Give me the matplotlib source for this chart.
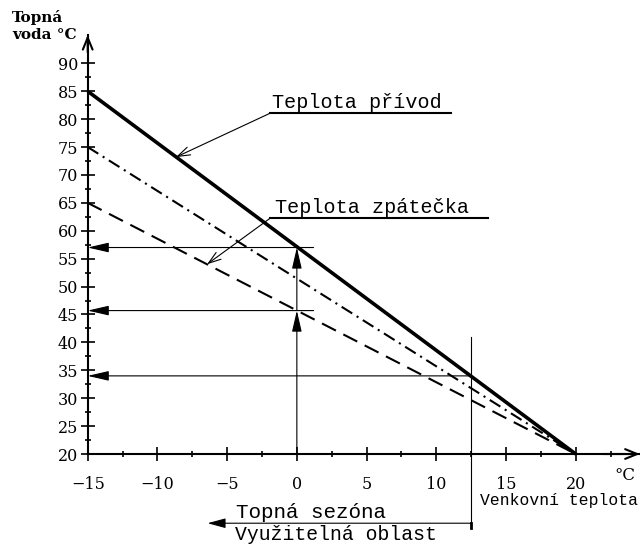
import matplotlib
matplotlib.use("Agg")
import matplotlib.pyplot as plt
import numpy as np

# venkovni teplota (osa x) a teploty vody
outdoor = [-15, 20]
supply = [85, 20]
middle = [75, 20]
ret = [65, 20]

# odectene body
design_x = 0
supply_design = 57
return_design = 45.7
season_end = 12.5
supply_season = 34
mark_end = 1.2

x_ticks = [-15, -10, -5, 0, 5, 10, 15, 20]
y_ticks = [20, 25, 30, 35, 40, 45, 50, 55, 60, 65, 70, 75, 80, 85, 90]

mono = "Liberation Mono"
serif = "DejaVu Serif"

fig = plt.figure(figsize=(6.4, 5.49), dpi=100)
ax = fig.add_axes([0, 0, 1, 1])
ax.set_xlim(-21.29, 24.61)
ax.set_ylim(2.98, 101.35)
ax.patch.set_visible(False)

# osy
for s in ["top", "right"]:
  ax.spines[s].set_visible(False)
ax.spines["left"].set_position(("data", -15))
ax.spines["bottom"].set_position(("data", 20))
ax.spines["left"].set_bounds(20, 95.1)
ax.spines["bottom"].set_bounds(-15, 24.6)
for s in ["left", "bottom"]:
  ax.spines[s].set_linewidth(1.5)

ax.set_xticks(x_ticks)
ax.set_yticks(y_ticks)
ax.set_xticks(np.arange(-12.5, 23, 5), minor=True)
ax.set_yticks(np.arange(22.5, 90, 5), minor=True)
ax.tick_params(which="major", direction="inout", length=10, width=1.2,
               labelsize=11.5, labelfontfamily=serif)
ax.tick_params(which="minor", direction="inout", length=4.3, width=1.2)
ax.tick_params(axis="x", which="major", pad=11)
ax.tick_params(axis="y", which="major", pad=2)

arrow_open = dict(arrowstyle="->,head_length=0.86,head_width=0.35", lw=1.5,
                  color="k", shrinkA=0, shrinkB=0)
ax.annotate("", xy=(-15, 95.1), xytext=(-15, 92), arrowprops=arrow_open,
            annotation_clip=False)
ax.annotate("", xy=(24.6, 20), xytext=(22, 20), arrowprops=arrow_open,
            annotation_clip=False)

# krivky
ax.plot(outdoor, supply, color="k", lw=2.6, solid_capstyle="butt")
ax.plot(outdoor, middle, color="k", lw=1.5, linestyle=(0, (6, 2.5, 1, 2.5)))
ax.plot(outdoor, ret, color="k", lw=1.5, linestyle=(0, (7.5, 4)))

# pomocne cary s sipkami
filled = dict(arrowstyle="-|>,head_length=1.3,head_width=0.3", lw=0.8,
              color="k", shrinkA=0, shrinkB=0)
for yv, xe in [(supply_design, mark_end), (return_design, mark_end),
               (supply_season, season_end)]:
  ax.annotate("", xy=(-15, yv), xytext=(xe, yv), arrowprops=filled)

ax.annotate("", xy=(design_x, return_design), xytext=(design_x, 20),
            arrowprops=filled)
ax.annotate("", xy=(design_x, supply_design), xytext=(design_x, return_design),
            arrowprops=filled)

ax.plot([season_end, season_end], [40.9, 6.8], color="k", lw=0.8)
ax.plot([season_end, season_end], [7.6, 6.8], color="k", lw=2)
ax.annotate("", xy=(-6.4, 7.6), xytext=(season_end, 7.6),
            arrowprops=dict(arrowstyle="-|>,head_length=1.1,head_width=0.3",
                            lw=0.8, color="k", shrinkA=0, shrinkB=0))

# popisky s odkazy
lead = dict(arrowstyle="->,head_length=0.9,head_width=0.3", lw=0.8, color="k",
            shrinkA=0, shrinkB=0)
ax.plot([-1.93, 11.03], [81.05, 81.05], color="k", lw=1.5)
ax.annotate("", xy=(-8.67, 73.2), xytext=(-1.93, 81.05), arrowprops=lead)
ax.text(-1.75, 82.0, "Teplota přívod", family=mono, fontsize=14.5,
        ha="left", va="baseline")

ax.plot([-1.93, 13.7], [62.22, 62.22], color="k", lw=1.5)
ax.annotate("", xy=(-6.44, 54.0), xytext=(-1.93, 62.22), arrowprops=lead)
ax.text(-1.6, 63.2, "Teplota zpátečka", family=mono, fontsize=14.5,
        ha="left", va="baseline")

ax.text(-20.43, 99.6, "Topná\nvoda °C", family=serif, fontweight="bold",
        fontsize=11, ha="left", va="top", linespacing=1.25)
ax.text(23.53, 16.1, "°C", family=serif, fontsize=12, ha="center",
        va="center")
ax.text(18.77, 11.6, "Venkovní teplota", family=mono, fontsize=11.8,
        ha="center", va="center")
ax.text(-4.36, 8.5, "Topná sezóna", family=mono, fontsize=15,
        ha="left", va="baseline")
ax.text(-4.45, 4.6, "Využitelná oblast", family=mono, fontsize=14.2,
        ha="left", va="baseline")

plt.savefig("out.png", dpi=100)
